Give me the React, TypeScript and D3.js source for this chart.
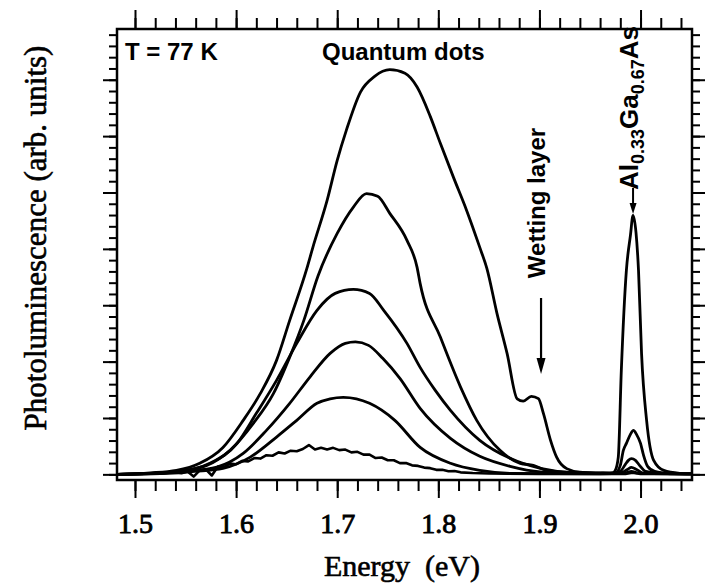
import React, { useEffect, useRef } from "react";
import * as d3 from "d3";

const W = 705;
const H = 588;

// PL spectra at T = 77 K for decreasing excitation power: [energy (eV), intensity (arb. units)]
const spectrumA: [number, number][] = [
  [1.482, 0], [1.515, 0.13], [1.541, 0.35], [1.564, 0.98], [1.587, 2.39], [1.607, 4.79],
  [1.624, 7.18], [1.640, 10.11], [1.653, 13.66], [1.670, 18.27], [1.676, 20.16], [1.690, 24.3],
  [1.700, 27.85], [1.709, 30.51], [1.723, 33.91], [1.737, 35.3], [1.752, 35.89], [1.767, 35.57],
  [1.779, 34.35], [1.792, 31.75], [1.802, 29.36], [1.815, 26.34], [1.828, 23.41], [1.841, 20.13],
  [1.848, 18.27], [1.858, 14.28], [1.868, 10.73], [1.878, 6.7], [1.884, 6.5], [1.892, 6.92],
  [1.899, 6.71], [1.904, 5.38], [1.911, 3.02], [1.917, 1.53], [1.927, 0.51], [1.940, 0.2],
  [1.963, 0.12], [1.972, 0.09], [1.975, 0.35], [1.978, 1.53], [1.981, 9.22], [1.986, 18.09],
  [1.990, 21.2], [1.9926, 22.97], [1.9955, 21.46], [1.998, 18.09], [2.001, 10.73], [2.006, 4.79],
  [2.013, 1.24], [2.023, 0.35], [2.039, 0.09], [2.051, 0.04],
];

const spectrumB: [number, number][] = [
  [1.482, 0], [1.515, 0.09], [1.545, 0.31], [1.571, 0.8], [1.594, 2.13], [1.617, 4.52],
  [1.637, 7.18], [1.653, 10.4], [1.667, 13.66], [1.681, 17.6], [1.700, 21.37], [1.716, 23.71],
  [1.729, 24.9], [1.740, 24.66], [1.752, 23.15], [1.769, 20.75], [1.779, 18.36], [1.782, 16.94],
  [1.802, 12.18], [1.822, 7.74], [1.838, 4.79], [1.861, 2.13], [1.881, 0.98], [1.894, 0.8],
  [1.907, 0.35], [1.923, 0.2], [1.960, 0.09], [1.975, 0.13], [1.980, 0.8], [1.983, 2.13],
  [1.986, 2.75], [1.990, 3.55], [1.993, 3.9], [1.996, 3.55], [2.000, 2.75], [2.003, 1.69],
  [2.007, 0.71], [2.014, 0.27], [2.029, 0.09], [2.051, 0.04],
];

const spectrumC: [number, number][] = [
  [1.482, 0], [1.515, 0.09], [1.545, 0.27], [1.574, 0.98], [1.601, 2.75], [1.620, 5.41],
  [1.640, 8.34], [1.660, 11.62], [1.680, 14.55], [1.698, 16.05], [1.716, 16.41], [1.732, 16.05],
  [1.746, 14.55], [1.769, 11.62], [1.782, 9.49], [1.797, 7.45], [1.812, 5.68], [1.841, 3.02],
  [1.871, 1.42], [1.901, 0.53], [1.930, 0.18], [1.970, 0.09], [1.980, 0.27], [1.985, 0.89],
  [1.988, 1.24], [1.991, 1.39], [1.995, 1.24], [1.999, 0.8], [2.005, 0.27], [2.019, 0.09],
  [2.051, 0.04],
];

const spectrumD: [number, number][] = [
  [1.482, 0], [1.515, 0.06], [1.550, 0.27], [1.581, 0.65], [1.607, 1.86], [1.630, 3.9],
  [1.653, 6.3], [1.673, 8.63], [1.693, 10.73], [1.708, 11.62], [1.718, 11.75], [1.731, 11.44],
  [1.745, 10.29], [1.762, 8.51], [1.782, 5.85], [1.812, 3.19], [1.841, 1.6], [1.871, 0.71],
  [1.901, 0.22], [1.940, 0.09], [1.980, 0.13], [1.987, 0.44], [1.991, 0.62], [1.996, 0.44],
  [2.003, 0.09], [2.051, 0.04],
];

const spectrumE: [number, number][] = [
  [1.482, 0], [1.525, 0.06], [1.559, 0.27], [1.587, 0.53], [1.614, 1.53], [1.640, 3.31],
  [1.660, 4.79], [1.680, 6.3], [1.693, 6.7], [1.706, 6.83], [1.719, 6.7], [1.732, 6.3],
  [1.757, 4.79], [1.782, 2.39], [1.812, 0.98], [1.841, 0.35], [1.871, 0.09], [1.960, 0.04],
  [1.985, 0.13], [1.991, 0.27], [1.997, 0.13], [2.051, 0.04],
];

// Lowest excitation: noisy trace
const spectrumF: [number, number][] = [
  [1.482, 0], [1.510, 0.05], [1.525, 0.1], [1.540, 0.15], [1.546, 0.1], [1.552, 0.25],
  [1.558, -0.2], [1.564, 0.35], [1.570, 0.45], [1.576, -0.1], [1.582, 0.7], [1.588, 0.65],
  [1.594, 0.95], [1.600, 0.9], [1.606, 1.2], [1.612, 1.15], [1.618, 1.45], [1.624, 1.4],
  [1.630, 1.7], [1.636, 1.65], [1.642, 1.95], [1.648, 1.85], [1.654, 2.1], [1.660, 2.05],
  [1.666, 2.25], [1.672, 2.6], [1.678, 2.2], [1.684, 2.35], [1.690, 2.2], [1.696, 2.35],
  [1.702, 2.15], [1.708, 2.2], [1.714, 1.95], [1.720, 2.0], [1.726, 1.75], [1.732, 1.75],
  [1.738, 1.45], [1.744, 1.5], [1.750, 1.25], [1.756, 1.25], [1.762, 1.0], [1.768, 1.0],
  [1.774, 0.8], [1.780, 0.75], [1.786, 0.6], [1.792, 0.55], [1.798, 0.4], [1.804, 0.4],
  [1.810, 0.28], [1.816, 0.3], [1.822, 0.18], [1.834, 0.12], [1.850, 0.08], [1.900, 0.04],
  [1.985, 0.04], [1.992, 0.15], [2.000, 0.04], [2.051, 0.04],
];

const smoothSpectra = [spectrumA, spectrumB, spectrumC, spectrumD, spectrumE];

const majorEnergyTicks = [1.5, 1.6, 1.7, 1.8, 1.9, 2.0];
const minorEnergyTicks = d3.range(1.5, 2.041, 0.02);
const intensityTicks = d3.range(0, 40);

const xTitle = "Energy  (eV)";
const yTitle = "Photoluminescence (arb. units)";
const temperatureLabel = "T = 77 K";
const qdLabel = "Quantum dots";
const wettingLabel = "Wetting layer";

export default function App() {
  const ref = useRef<SVGSVGElement>(null);

  useEffect(() => {
    const svg = d3.select(ref.current);
    svg.selectAll("*").remove();

    const left = 117, right = 692, top = 29, bottom = 480;
    const x = d3.scaleLinear().domain([1.4822, 2.0509]).range([left, right]);
    const y = d3.scaleLinear().domain([-0.5, 39.5]).range([bottom, top]);

    const serif = "'Liberation Serif', 'Times New Roman', serif";
    const sans = "'Liberation Sans', Arial, sans-serif";

    const styleAxis = (g: d3.Selection<SVGGElement, unknown, null, undefined>) => {
      g.select(".domain").remove();
      g.selectAll(".tick line").attr("stroke", "#000").attr("stroke-width", 2);
    };

    // bottom axis
    svg.append("g").attr("transform", `translate(0,${bottom})`)
      .call(d3.axisBottom(x).tickValues(minorEnergyTicks).tickSize(11).tickFormat(() => ""))
      .call(styleAxis);
    const bx = svg.append("g").attr("transform", `translate(0,${bottom})`)
      .call(d3.axisBottom(x).tickValues(majorEnergyTicks).tickSize(18).tickPadding(15).tickFormat(d3.format(".1f")))
      .call(styleAxis);
    bx.selectAll("text").attr("font-family", serif).attr("font-size", 28)
      .attr("fill", "#000").attr("stroke", "#000").attr("stroke-width", 0.9);

    // top axis
    svg.append("g").attr("transform", `translate(0,${top})`)
      .call(d3.axisTop(x).tickValues(minorEnergyTicks).tickSize(11).tickFormat(() => ""))
      .call(styleAxis);
    svg.append("g").attr("transform", `translate(0,${top})`)
      .call(d3.axisTop(x).tickValues(majorEnergyTicks).tickSize(19).tickFormat(() => ""))
      .call(styleAxis);

    // left and right axes
    const majorI = intensityTicks.filter((d) => d % 5 === 0);
    svg.append("g").attr("transform", `translate(${left},0)`)
      .call(d3.axisLeft(y).tickValues(intensityTicks).tickSize(8).tickFormat(() => ""))
      .call(styleAxis);
    svg.append("g").attr("transform", `translate(${left},0)`)
      .call(d3.axisLeft(y).tickValues(majorI).tickSize(14).tickFormat(() => ""))
      .call(styleAxis);
    svg.append("g").attr("transform", `translate(${right},0)`)
      .call(d3.axisRight(y).tickValues(intensityTicks).tickSize(8).tickFormat(() => ""))
      .call(styleAxis);
    svg.append("g").attr("transform", `translate(${right},0)`)
      .call(d3.axisRight(y).tickValues(majorI).tickSize(14).tickFormat(() => ""))
      .call(styleAxis);

    // frame
    svg.append("rect").attr("x", left).attr("y", top)
      .attr("width", right - left).attr("height", bottom - top)
      .attr("fill", "none").attr("stroke", "#000").attr("stroke-width", 2.5);

    svg.append("clipPath").attr("id", "plot-clip").append("rect")
      .attr("x", left).attr("y", top).attr("width", right - left).attr("height", bottom - top);

    const plot = svg.append("g").attr("clip-path", "url(#plot-clip)");
    const smoothLine = d3.line<[number, number]>()
      .x((d) => x(d[0])).y((d) => y(d[1])).curve(d3.curveMonotoneX);
    const rawLine = d3.line<[number, number]>()
      .x((d) => x(d[0])).y((d) => y(d[1])).curve(d3.curveLinear);

    plot.append("path").attr("d", rawLine(spectrumF)!)
      .attr("fill", "none").attr("stroke", "#000").attr("stroke-width", 2.6)
      .attr("stroke-linejoin", "round");
    smoothSpectra.forEach((s) => {
      plot.append("path").attr("d", smoothLine(s)!)
        .attr("fill", "none").attr("stroke", "#000").attr("stroke-width", 2.8)
        .attr("stroke-linejoin", "round");
    });

    // axis titles
    svg.append("text").attr("x", 402).attr("y", 576)
      .attr("text-anchor", "middle").attr("font-family", serif).attr("font-size", 30)
      .attr("fill", "#000").attr("stroke", "#000").attr("stroke-width", 0.6)
      .attr("xml:space", "preserve").text(xTitle);
    svg.append("text").attr("transform", "translate(46,238) rotate(-90)")
      .attr("text-anchor", "middle").attr("font-family", serif).attr("font-size", 31)
      .attr("fill", "#000").attr("stroke", "#000").attr("stroke-width", 0.6)
      .text(yTitle);

    // annotations
    svg.append("text").attr("x", 125).attr("y", 60).attr("font-family", sans)
      .attr("font-weight", "bold").attr("font-size", 24).attr("fill", "#000").text(temperatureLabel);
    svg.append("text").attr("x", 322).attr("y", 60).attr("font-family", sans)
      .attr("font-weight", "bold").attr("font-size", 24).attr("fill", "#000").text(qdLabel);

    svg.append("text").attr("transform", "translate(545,203) rotate(-90)")
      .attr("text-anchor", "middle").attr("font-family", sans)
      .attr("font-weight", "bold").attr("font-size", 24).attr("fill", "#000").text(wettingLabel);

    // wetting layer arrow
    const wx = x(1.9016);
    svg.append("line").attr("x1", wx).attr("x2", wx).attr("y1", 298).attr("y2", 362)
      .attr("stroke", "#000").attr("stroke-width", 2.2);
    svg.append("path").attr("d", `M${wx - 4.5},358 L${wx + 4.5},358 L${wx},374 Z`).attr("fill", "#000");

    // barrier label with arrow to its peak
    const ax = x(1.9926);
    const al = svg.append("text").attr("transform", `translate(${ax + 5},190) rotate(-90)`)
      .attr("font-family", sans).attr("font-weight", "bold").attr("font-size", 26).attr("fill", "#000");
    al.append("tspan").text("Al");
    al.append("tspan").attr("font-size", 18).attr("dy", 6).text("0.33");
    al.append("tspan").attr("dy", -6).text("Ga");
    al.append("tspan").attr("font-size", 18).attr("dy", 6).text("0.67");
    al.append("tspan").attr("dy", -6).text("As");
    svg.append("line").attr("x1", ax).attr("x2", ax).attr("y1", 188).attr("y2", 205)
      .attr("stroke", "#000").attr("stroke-width", 2);
    svg.append("path").attr("d", `M${ax - 3.5},203 L${ax + 3.5},203 L${ax},214 Z`).attr("fill", "#000");
  }, []);

  return (
    <svg ref={ref} width={W} height={H}
      style={{ position: "absolute", left: 0, top: 0, background: "#fff" }} />
  );
}
